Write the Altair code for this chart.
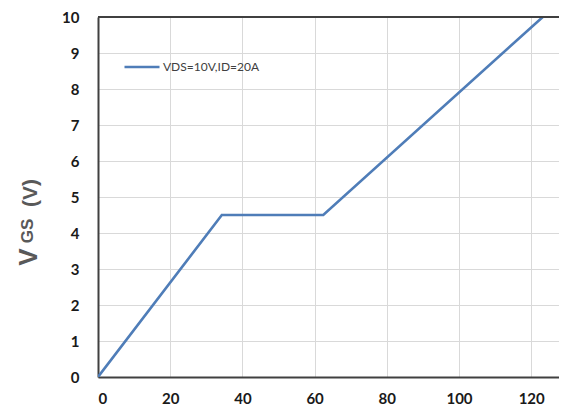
import altair as alt
import pandas as pd

qg = [0, 34.3, 62.4, 123.2]
vgs = [0, 4.5, 4.5, 10]
series = "VDS=10V,ID=20A"
x_ticks = [0, 20, 40, 60, 80, 100, 120]
y_ticks = [0, 1, 2, 3, 4, 5, 6, 7, 8, 9, 10]

df = pd.DataFrame({"qg": qg, "vgs": vgs, "s": [series] * len(qg)})

W, H = 461, 360
FONT = "Lato"

xs = alt.Scale(domain=[0, 127.7], nice=False, zero=False)
ys = alt.Scale(domain=[0, 10], nice=False)

x_axis = alt.Axis(values=x_ticks, title=None, grid=True,
                  gridColor="#d9d9d9", gridWidth=1, domainColor="#404040", domainWidth=2,
                  ticks=False, labelFont=FONT, labelFontWeight="bold", labelFontSize=15,
                  labelColor="#1a1a1a", labelPadding=14, labelOverlap=False)
y_axis = alt.Axis(values=y_ticks, title=None, grid=True,
                  gridColor="#d9d9d9", gridWidth=1, domainColor="#404040", domainWidth=2,
                  ticks=False, labelFont=FONT, labelFontWeight="bold", labelFontSize=15,
                  labelColor="#1a1a1a", labelPadding=19, labelOverlap=False)

line = alt.Chart(df).mark_line(strokeWidth=2.6, clip=True).encode(
    x=alt.X("qg:Q", scale=xs, axis=x_axis),
    y=alt.Y("vgs:Q", scale=ys, axis=y_axis),
    color=alt.Color("s:N", scale=alt.Scale(range=["#4f7db8"]),
                    legend=alt.Legend(title=None, orient="none", legendX=25, legendY=31,
                                      symbolType="stroke", symbolSize=1225,
                                      symbolStrokeWidth=2.6, labelFont=FONT,
                                      labelFontSize=12, labelColor="#404040",
                                      labelOffset=2)),
)

top_df = pd.DataFrame({"y": [10]})
top = alt.Chart(top_df).mark_rule(color="#404040", strokeWidth=2).encode(
    y=alt.Y("y:Q", scale=ys, axis=y_axis))

lab_df = pd.DataFrame({"t": ["V", "GS", "(V)"], "px": [37, 33, 37], "py": [257, 231, 193],
                       "fs": [26, 17, 21]})
labs = []
for t, px, py, fs in zip(lab_df.t, lab_df.px, lab_df.py, lab_df.fs):
    labs.append(alt.Chart(pd.DataFrame({"t": [t]})).mark_text(
        font="Liberation Sans", fontWeight="bold", fontSize=int(fs), color="#595959",
        angle=270, align="center", baseline="alphabetic").encode(
        text="t:N", x=alt.value(px - 98), y=alt.value(py - 17)))

chart = alt.layer(line, top, *labs).properties(
    width=W, height=H, padding={"left": 90, "top": 9, "right": 0, "bottom": 40},
    autosize=alt.AutoSizeParams(type="none")
).configure_view(stroke=None).configure(background="white")

chart.save("out.html", embed_options={"renderer": "svg", "actions": False})
